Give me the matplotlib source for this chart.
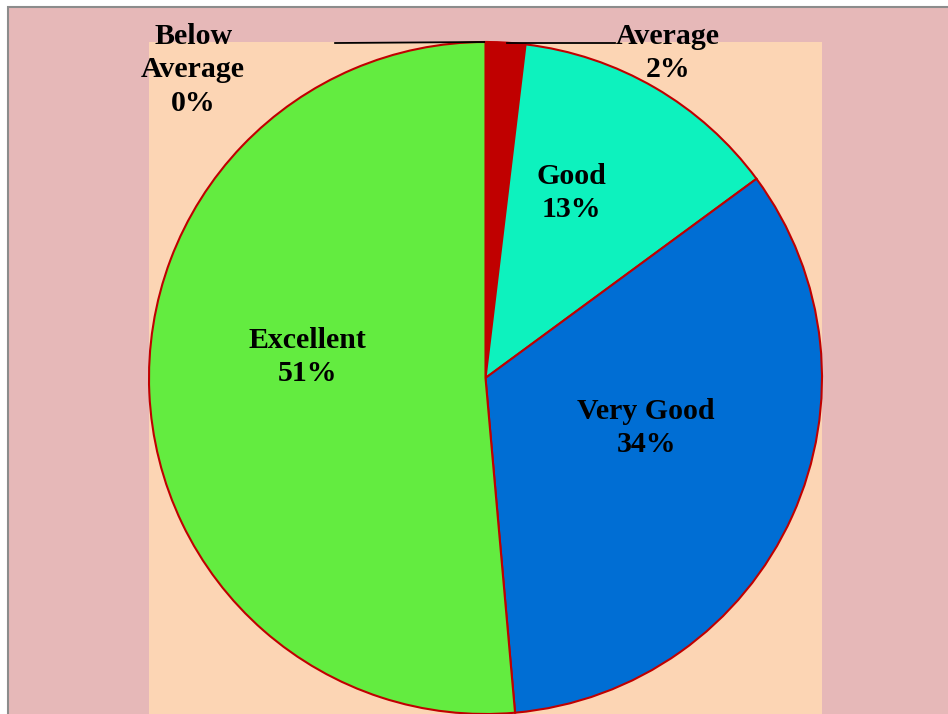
import matplotlib.pyplot as plt
from matplotlib.patches import Rectangle

# share of responses per rating (%), clockwise from the top
categories = ['Below Average', 'Average', 'Good', 'Very Good', 'Excellent']
shares = [0.1, 1.8, 13.0, 33.7, 51.4]
colors = ['#7F0000', '#C00000', '#0DF2BE', '#006ED4', '#63EC40']

plt.rcParams['font.family'] = ['Liberation Serif', 'DejaVu Serif']

fig = plt.figure(figsize=(9.48, 7.14), dpi=100)
fig.patch.set_facecolor('white')

# pink chart area with thin grey border
fig.add_artist(Rectangle((8 / 948, -0.01), 1.0, 1 - 7 / 714 + 0.01,
                         transform=fig.transFigure, facecolor='#E6B8B8',
                         edgecolor='#8C8C8C', linewidth=1.5, zorder=-5))

ax = fig.add_axes([149 / 948, 0, 673 / 948, 672 / 714])
ax.set_zorder(2)

wedges, _ = ax.pie(shares, colors=colors, startangle=90, counterclock=False,
                   radius=1.0, frame=True,
                   wedgeprops=dict(edgecolor='#C00000', linewidth=1.5))
for w in wedges:
    w.set_clip_on(False)

ax.set_facecolor('#FCD5B4')
ax.patch.set_visible(True)
ax.set_aspect('auto')
ax.set_xlim(-1, 1)
ax.set_ylim(-1, 1)
for s in ax.spines.values():
    s.set_visible(False)
ax.set_xticks([])
ax.set_yticks([])

label_pos = [(-0.869, 0.917), (0.542, 0.967), (0.254, 0.551),
             (0.477, -0.149), (-0.530, 0.0625)]
for name, p, (x, y) in zip(categories, shares, label_pos):
    txt = name.replace('Below ', 'Below\n') + '\n' + f'{round(p)}%'
    ax.text(x, y, txt, ha='center', va='center', fontsize=21.5,
            fontweight='bold', linespacing=1.3, clip_on=False)

# leader lines for the two small slices
ax.plot([-0.447, -0.004], [0.997, 1.0], color='black', lw=1.3, clip_on=False)
ax.plot([0.064, 0.385], [0.997, 0.997], color='black', lw=1.3, clip_on=False)

fig.savefig('out.png', dpi=100)
